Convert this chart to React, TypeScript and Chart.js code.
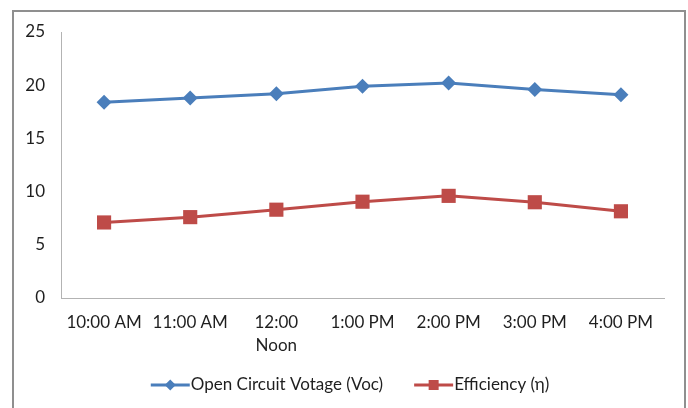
import React, { useEffect, useRef } from "react";
import { Chart, registerables } from "chart.js";

Chart.register(...registerables);

const categories: (string | string[])[] = [
  "10:00 AM",
  "11:00 AM",
  ["12:00", "Noon"],
  "1:00 PM",
  "2:00 PM",
  "3:00 PM",
  "4:00 PM",
];
const vocValues = [18.4, 18.8, 19.2, 19.9, 20.2, 19.6, 19.1];
const efficiencyValues = [7.1, 7.6, 8.3, 9.05, 9.6, 9.0, 8.15];
const yMin = 0;
const yMax = 25;
const yStep = 5;
const seriesNames = ["Open Circuit Votage (Voc)", "Efficiency (\u03B7)"];

const FONT_FAMILY = "Lato, 'Noto Sans', sans-serif";
const FONT_SIZE = 17;
const TEXT_COLOR = "#1f1f1f";
const BLUE = "#4a7ebb";
const RED = "#be4b48";

const legendPlugin = {
  id: "excelLegend",
  afterDraw(chart: any) {
    const ctx = chart.ctx as CanvasRenderingContext2D;
    const y = 385;
    const lineW = 39;
    const gap = 1;
    const itemGap = 31;
    ctx.save();
    ctx.font = `${FONT_SIZE}px ${FONT_FAMILY}`;
    const items = chart.data.datasets.map((ds: any) => ({
      ds,
      w: ctx.measureText(ds.label).width,
    }));
    const total =
      items.reduce((s: number, it: any) => s + lineW + gap + it.w, 0) +
      itemGap * (items.length - 1);
    let x = 350 - total / 2;
    items.forEach(({ ds, w }: any) => {
      ctx.strokeStyle = ds.borderColor;
      ctx.lineWidth = 3;
      ctx.beginPath();
      ctx.moveTo(x, y);
      ctx.lineTo(x + lineW, y);
      ctx.stroke();
      const cx = x + lineW / 2;
      ctx.fillStyle = ds.pointBackgroundColor;
      ctx.beginPath();
      if (ds.pointStyle === "rectRot") {
        const r = 5.5;
        ctx.moveTo(cx, y - r);
        ctx.lineTo(cx + r, y);
        ctx.lineTo(cx, y + r);
        ctx.lineTo(cx - r, y);
        ctx.closePath();
      } else {
        const s = 10;
        ctx.rect(cx - s / 2, y - s / 2, s, s);
      }
      ctx.fill();
      ctx.fillStyle = TEXT_COLOR;
      ctx.textBaseline = "middle";
      ctx.textAlign = "left";
      ctx.fillText(ds.label, x + lineW + gap, y);
      x += lineW + gap + w + itemGap;
    });
    ctx.restore();
  },
};

export default function App() {
  const canvasRef = useRef<HTMLCanvasElement | null>(null);

  useEffect(() => {
    if (!canvasRef.current) return;
    const chart = new Chart(canvasRef.current, {
      type: "line",
      data: {
        labels: categories as any,
        datasets: [
          {
            label: seriesNames[0],
            data: vocValues,
            borderColor: BLUE,
            backgroundColor: BLUE,
            pointBackgroundColor: BLUE,
            pointBorderColor: BLUE,
            pointStyle: "rectRot",
            pointRadius: 7.5,
            pointBorderWidth: 0,
            borderWidth: 3,
            tension: 0,
          },
          {
            label: seriesNames[1],
            data: efficiencyValues,
            borderColor: RED,
            backgroundColor: RED,
            pointBackgroundColor: RED,
            pointBorderColor: RED,
            pointStyle: "rect",
            pointRadius: 10,
            pointBorderWidth: 0,
            borderWidth: 3,
            tension: 0,
          },
        ],
      },
      options: {
        responsive: false,
        animation: false,
        devicePixelRatio: 1,
        layout: { padding: { top: 32, right: 24, bottom: 0, left: 0 } },
        plugins: {
          legend: { display: false },
          tooltip: { enabled: false },
        },
        scales: {
          x: {
            offset: true,
            grid: { display: false, drawTicks: false },
            border: { display: true, color: "#b3b3b3", width: 1 },
            ticks: {
              color: TEXT_COLOR,
              font: { family: FONT_FAMILY, size: FONT_SIZE, lineHeight: 1.35 },
              padding: 13,
              maxRotation: 0,
              autoSkip: false,
            },
            afterFit(scale: any) {
              scale.height = 110;
            },
          },
          y: {
            min: yMin,
            max: yMax,
            grid: { display: false, drawTicks: false },
            border: { display: true, color: "#b3b3b3", width: 1 },
            ticks: {
              stepSize: yStep,
              color: TEXT_COLOR,
              font: { family: FONT_FAMILY, size: FONT_SIZE },
              padding: 16,
            },
            afterFit(scale: any) {
              scale.width = 61;
            },
          },
        },
      },
      plugins: [legendPlugin],
    });
    return () => chart.destroy();
  }, []);

  return (
    <div style={{ position: "absolute", left: 0, top: 0, width: 688, height: 408, background: "#fff", overflow: "hidden" }}>
      <div
        style={{
          position: "absolute",
          left: 12,
          top: 10,
          width: 674,
          height: 420,
          border: "2px solid #8f8f8f",
          boxSizing: "border-box",
        }}
      />
      <canvas
        ref={canvasRef}
        width={688}
        height={408}
        style={{ position: "absolute", left: 0, top: 0, width: 688, height: 408 }}
      />
    </div>
  );
}
